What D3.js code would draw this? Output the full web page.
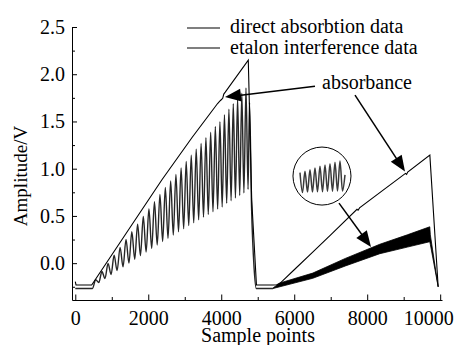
<!DOCTYPE html>
<html><head><meta charset="utf-8">
<script src="https://cdn.jsdelivr.net/npm/d3@7/dist/d3.min.js"></script>
<style>
html,body{margin:0;padding:0;background:#fff;}
svg{display:block;font-family:"Liberation Serif","Times New Roman",serif;}
</style></head><body>
<svg id="chart" width="456" height="345"></svg>
<script>
// ---------------- data ----------------
const xTicks = [0, 2000, 4000, 6000, 8000, 10000];
const xMinorTicks = [1000, 3000, 5000, 7000, 9000];
const yTicks = [0, 0.5, 1.0, 1.5, 2.0, 2.5];
const yMinorTicks = [-0.25, 0.25, 0.75, 1.25, 1.75, 2.25];
const xLabel = "Sample points";
const yLabel = "Amplitude/V";
const legendLabels = ["direct absorbtion data", "etalon interference data"];
const annotationLabel = "absorbance";

// direct absorption signal (sample index, volts)
const directX = [0, 20, 450, 1400, 2370, 3200, 3900, 3960, 4000, 4040, 4070, 4110, 4741, 4835, 4965,
  5430, 5520, 5610, 6000, 6500, 7000, 7720, 7750, 7790, 8400, 9050, 9080, 9110, 9717, 9945];
const directV = [-0.196, -0.231, -0.231, 0.32, 0.88, 1.33, 1.69, 1.715, 1.73, 1.745, 1.79, 1.81, 2.15, 0.67, -0.231,
  -0.231, -0.228, -0.213, -0.07, 0.115, 0.30, 0.57, 0.56, 0.585, 0.763, 0.95, 0.94, 0.965, 1.144, -0.25];

// etalon interference signal, first ramp (turning points of the fringes)
const etalonX = [0, 470,
  560, 645, 730, 814, 898, 981, 1064, 1146, 1228, 1309, 1390, 1470, 1550, 1629,
  1708, 1786, 1864, 1941, 2018, 2094, 2170, 2245, 2320, 2394, 2468, 2541, 2614, 2686,
  2758, 2829, 2900, 2970, 3040, 3109, 3178, 3246, 3314, 3381, 3448, 3514, 3580, 3645,
  3710, 3774, 3838, 3901, 3964, 4026, 4088, 4149, 4210, 4270, 4330, 4389, 4448, 4506,
  4564, 4621, 4678, 4735, 4775, 4830, 4900, 4960, 5420];
const etalonV = [-0.268, -0.268,
  -0.176, -0.204, -0.089, -0.162, -0.003, -0.120, 0.083, -0.079, 0.167, -0.039, 0.250, 0.001, 0.332, 0.041,
  0.413, 0.080, 0.494, 0.118, 0.573, 0.156, 0.651, 0.193, 0.728, 0.230, 0.801, 0.264, 0.871, 0.298,
  0.940, 0.332, 1.009, 0.364, 1.077, 0.397, 1.143, 0.428, 1.206, 0.458, 1.268, 0.487, 1.328, 0.516,
  1.387, 0.545, 1.446, 0.573, 1.497, 0.594, 1.572, 0.633, 1.629, 0.661, 1.687, 0.689, 1.744, 0.716,
  1.799, 0.743, 1.854, 0.78, 1.70, 0.60, -0.05, -0.268, -0.268];

// etalon signal, second ramp: fringes too dense to separate -> envelope of the black band
const bandX = [5420, 5605, 6510, 7400, 8345, 9100, 9715, 9730, 9945];
const bandTop = [-0.262, -0.21, -0.105, 0.05, 0.20, 0.30, 0.385, 0.30, -0.25];
const bandBottom = [-0.268, -0.25, -0.16, -0.03, 0.10, 0.17, 0.227, 0.20, -0.25];

// magnified inset of the fringes (half-cycle index, relative amplitude)
const insetIdx = [0, 1, 2, 3, 4, 5, 6, 7, 8, 9, 10, 11, 12, 13, 14, 15, 16, 17, 18];
const insetV = [0.62, 0.02, 0.66, 0.03, 0.71, 0.03, 0.76, 0.04, 0.81, 0.04, 0.85, 0.05, 0.89, 0.05, 0.93, 0.06, 0.97, 0.06, 0.55];
const insetCenter = [6761, 0.922];   // in data units
const insetRadiusSamples = 795;

// arrows: [fromX, fromV, toX, toV] in data units
const arrows = [
  [6569, 1.874, 4103, 1.758],
  [7666, 1.779, 9036, 0.969],
  [7227, 0.636, 8104, 0.171]
];
const annotationPos = [7994, 1.906];

// ---------------- drawing ----------------
const svg = d3.select("#chart");
const FONT = "Liberation Serif, Times New Roman, serif";
const x = d3.scaleLinear().domain([-90, 10050]).range([72, 442]);
const y = d3.scaleLinear().domain([-0.39, 2.5]).range([300, 27]);

function styleAxis(g) {
  g.attr("font-size", 20).attr("font-family", FONT);
  g.selectAll("path.domain").attr("stroke", "#000").attr("stroke-width", 1);
  g.selectAll(".tick line").attr("stroke", "#000").attr("stroke-width", 1);
  g.selectAll(".tick text").attr("fill", "#000");
}

// bottom axis
const gx = svg.append("g").attr("transform", "translate(0,300)")
  .call(d3.axisBottom(x).tickValues(xTicks).tickSizeInner(-5.5).tickSizeOuter(0).tickPadding(11).tickFormat(d3.format("d")));
styleAxis(gx);
gx.selectAll(".tick text").filter(d => d === 10000).attr("text-anchor", "end").attr("dx", 13);
const gxm = svg.append("g").attr("transform", "translate(0,300)")
  .call(d3.axisBottom(x).tickValues(xMinorTicks).tickSizeInner(-3).tickSizeOuter(0).tickFormat(""));
styleAxis(gxm); gxm.select("path.domain").remove();

// left axis
const gy = svg.append("g").attr("transform", "translate(72,0)")
  .call(d3.axisLeft(y).tickValues(yTicks).tickSizeInner(-5).tickSizeOuter(0).tickPadding(7).tickFormat(d3.format(".1f")));
styleAxis(gy);
const gym = svg.append("g").attr("transform", "translate(72,0)")
  .call(d3.axisLeft(y).tickValues(yMinorTicks).tickSizeInner(-3).tickSizeOuter(0).tickFormat(""));
styleAxis(gym); gym.select("path.domain").remove();

// axis titles
svg.append("text").attr("x", 258).attr("y", 342).attr("text-anchor", "middle")
  .attr("font-size", 20).attr("font-family", FONT).text(xLabel);
svg.append("text").attr("transform", "translate(27,176) rotate(-90)").attr("text-anchor", "middle")
  .attr("font-size", 19).attr("font-family", FONT).text(yLabel);

// etalon band (second ramp)
const area = d3.area().x(i => x(bandX[i])).y0(i => y(bandBottom[i])).y1(i => y(bandTop[i]));
svg.append("path").datum(d3.range(bandX.length)).attr("d", area)
  .attr("fill", "#000").attr("stroke", "#000").attr("stroke-width", 0.8);

// etalon line (first ramp)
const etalonLine = d3.line().x(i => x(etalonX[i])).y(i => y(etalonV[i])).curve(d3.curveMonotoneX);
svg.append("path").datum(d3.range(etalonX.length)).attr("d", etalonLine)
  .attr("fill", "none").attr("stroke", "#262626").attr("stroke-width", 1.4);

// direct absorption line
const directLine = d3.line().x(i => x(directX[i])).y(i => y(directV[i]));
svg.append("path").datum(d3.range(directX.length)).attr("d", directLine)
  .attr("fill", "none").attr("stroke", "#000").attr("stroke-width", 1.1);

// inset circle with magnified fringes
const cx = x(insetCenter[0]), cy = y(insetCenter[1]);
const r = x(insetCenter[0] + insetRadiusSamples) - cx;
svg.append("circle").attr("cx", cx).attr("cy", cy).attr("r", r)
  .attr("fill", "#fff").attr("stroke", "#000").attr("stroke-width", 1);
const ix = d3.scaleLinear().domain([0, 18]).range([cx - 22, cx + 23]);
const iy = d3.scaleLinear().domain([0, 1]).range([cy + 17, cy - 16]);
svg.append("path").datum(d3.range(insetIdx.length))
  .attr("d", d3.line().x(i => ix(insetIdx[i])).y(i => iy(insetV[i])).curve(d3.curveMonotoneX))
  .attr("fill", "none").attr("stroke", "#3a3a3a").attr("stroke-width", 1.5);

// arrows
arrows.forEach(a => {
  const x1 = x(a[0]), y1 = y(a[1]), x2 = x(a[2]), y2 = y(a[3]);
  const dx = x2 - x1, dy = y2 - y1, len = Math.hypot(dx, dy);
  const ux = dx / len, uy = dy / len, L = 16, Wd = 6.5;
  const bx = x2 - ux * L, by = y2 - uy * L;
  svg.append("line").attr("x1", x1).attr("y1", y1).attr("x2", bx + ux * 2).attr("y2", by + uy * 2)
    .attr("stroke", "#000").attr("stroke-width", 1.5);
  svg.append("path").attr("d", `M${x2},${y2}L${bx - uy * Wd},${by + ux * Wd}L${bx + uy * Wd},${by - ux * Wd}Z`)
    .attr("fill", "#000");
});
svg.append("text").attr("x", x(annotationPos[0])).attr("y", y(annotationPos[1]) + 6)
  .attr("text-anchor", "middle").attr("font-size", 20).attr("font-family", FONT).text(annotationLabel);

// legend
const legendY = [28, 48], legendBase = [33, 54];
legendLabels.forEach((t, i) => {
  svg.append("line").attr("x1", 187).attr("x2", 220).attr("y1", legendY[i]).attr("y2", legendY[i])
    .attr("stroke", "#000").attr("stroke-width", 1.2);
  svg.append("text").attr("x", 230).attr("y", legendBase[i]).attr("font-size", 20)
    .attr("font-family", FONT).text(t);
});
</script>
</body></html>
